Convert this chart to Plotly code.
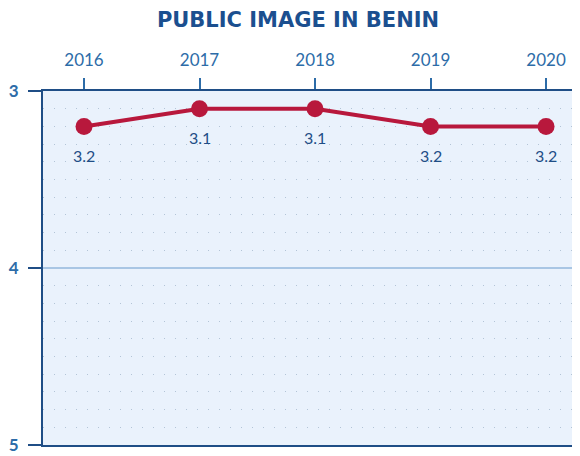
import plotly.graph_objects as go

years = [2016, 2017, 2018, 2019, 2020]
values = [3.2, 3.1, 3.1, 3.2, 3.2]
labels = ["3.2", "3.1", "3.1", "3.2", "3.2"]
y_ticks = [3, 4, 5]
title = "PUBLIC IMAGE IN BENIN"

dark = "#1f4e86"
tickblue = "#2d6ca8"
red = "#b8183c"

fig = go.Figure()
fig.add_trace(go.Scatter(
    x=years, y=values, mode="lines+markers",
    line=dict(color=red, width=4),
    marker=dict(color=red, size=17),
    hoverinfo="skip", showlegend=False,
))

for x, y, t in zip(years, values, labels):
    fig.add_annotation(x=x, y=y, text=t, showarrow=False, yshift=-29,
                       font=dict(family="Lato", size=16, color=dark))

fig.update_layout(
    width=572, height=448,
    margin=dict(l=35, r=0, t=83, b=11),
    paper_bgcolor="white",
    plot_bgcolor="#eaf2fc",
    title=dict(text="<b>" + title + "</b>", x=0.507, xanchor="center", y=0.973, yanchor="middle",
               font=dict(family="DejaVu Sans", size=21, color="#1b4f8f")),
    xaxis=dict(
        side="top", range=[2015.645, 2020.294], automargin=False,
        tickvals=years, ticktext=[str(y) for y in years],
        showgrid=False, zeroline=False,
        showline=True, linecolor=dark, linewidth=2, mirror=True,
        ticks="outside", ticklen=11, tickwidth=2, tickcolor=tickblue,
        ticklabelstandoff=5,
        tickfont=dict(family="Lato", size=17, color=tickblue),
    ),
    yaxis=dict(
        range=[5, 3], tickvals=y_ticks, ticktext=[str(v) for v in y_ticks],
        automargin=False,
        showgrid=True, gridcolor="#a9c6e4", gridwidth=2,
        zeroline=False,
        showline=True, linecolor=dark, linewidth=2, mirror=False,
        ticks="outside", ticklen=13, tickwidth=2, tickcolor=dark,
        ticklabelstandoff=6,
        tickfont=dict(family="Lato", size=17, color=tickblue, weight="bold"),
        minor=dict(dtick=0.1, showgrid=True, gridcolor="#b3c4d6", gridwidth=1,
                   griddash="1px,10px", ticks=""),
    ),
)

fig.write_html("out.html")
